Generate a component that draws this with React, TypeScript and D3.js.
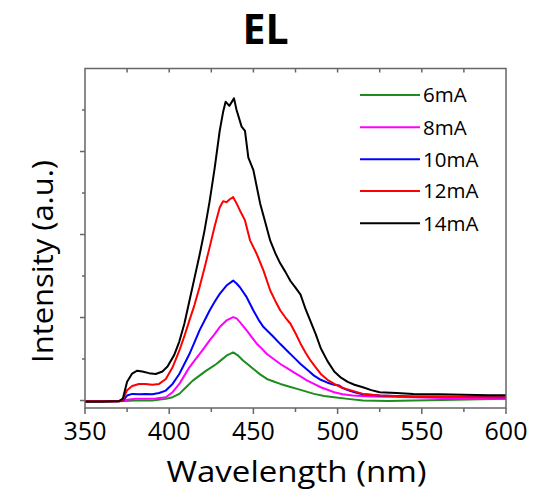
import * as d3 from "d3";
import { useEffect, useRef } from "react";

const TITLE = "EL";
const X_TITLE = "Wavelength (nm)";
const Y_TITLE = "Intensity (a.u.)";

const X_TICKS = [350, 400, 450, 500, 550, 600];

// 6mA
const wl6 = [350, 370, 380, 390, 398, 402, 406, 410, 414, 418, 422, 425, 428, 431, 434, 438, 441, 444, 447, 450, 454, 458, 462, 466, 471, 476, 481, 486, 492, 498, 506, 515, 530, 545, 570, 600];
const int6 = [-0.02, -0.02, 0.0, 0.0, 0.04, 0.08, 0.16, 0.32, 0.48, 0.6, 0.72, 0.8, 0.88, 0.98, 1.08, 1.16, 1.08, 0.96, 0.86, 0.76, 0.63, 0.52, 0.46, 0.4, 0.34, 0.28, 0.22, 0.16, 0.11, 0.08, 0.04, 0.0, -0.01, 0.0, 0.02, 0.04];

// 8mA
const wl8 = [350, 370, 375, 380, 386, 392, 398, 402, 406, 409, 412, 415, 418, 421, 424, 427, 430, 434, 438, 440, 442, 446, 449, 452, 455, 458, 462, 466, 470, 474, 478, 482, 486, 490, 494, 498, 503, 509, 520, 545, 575, 600];
const int8 = [-0.02, -0.02, 0.02, 0.04, 0.04, 0.05, 0.08, 0.2, 0.4, 0.6, 0.8, 0.96, 1.12, 1.28, 1.45, 1.6, 1.77, 1.93, 2.01, 1.98, 1.89, 1.69, 1.53, 1.37, 1.25, 1.12, 1.0, 0.88, 0.78, 0.68, 0.58, 0.48, 0.4, 0.32, 0.26, 0.2, 0.15, 0.12, 0.1, 0.08, 0.05, 0.04];

// 10mA
const wl10 = [350, 370, 372.5, 375, 378, 382, 386, 390, 394, 398, 402, 406, 409, 412, 415, 418, 421, 424, 427, 430, 434, 438, 440, 442, 446, 450, 453, 456, 459, 462, 466, 470, 474, 478, 482, 486, 490, 494, 498, 501, 503, 506, 510, 515, 525, 545, 570, 600];
const int10 = [-0.01, -0.01, 0.0, 0.12, 0.16, 0.15, 0.16, 0.15, 0.18, 0.24, 0.4, 0.64, 0.88, 1.12, 1.4, 1.69, 1.93, 2.17, 2.38, 2.57, 2.77, 2.89, 2.82, 2.73, 2.49, 2.17, 1.95, 1.77, 1.65, 1.53, 1.36, 1.2, 1.04, 0.88, 0.74, 0.6, 0.5, 0.43, 0.38, 0.36, 0.3, 0.25, 0.2, 0.15, 0.12, 0.1, 0.09, 0.08];

// 12mA
const wl12 = [350, 370, 372.5, 375, 378, 382, 386, 390, 394, 398, 402, 406, 409, 412, 415, 418, 421, 424, 427, 430, 432, 434, 436, 438, 440, 442, 445, 448, 452, 456, 460, 463, 466, 469, 472, 475, 478, 481, 484, 487, 490, 494, 498, 502, 505, 510, 515, 525, 540, 560, 580, 600];
const int12 = [-0.02, -0.02, 0.02, 0.25, 0.35, 0.4, 0.4, 0.38, 0.4, 0.52, 0.8, 1.2, 1.55, 1.93, 2.3, 2.73, 3.2, 3.69, 4.2, 4.65, 4.8, 4.78, 4.85, 4.9, 4.75, 4.58, 4.34, 3.86, 3.53, 3.13, 2.65, 2.4, 2.17, 2.0, 1.85, 1.62, 1.37, 1.15, 0.96, 0.8, 0.64, 0.5, 0.4, 0.32, 0.28, 0.22, 0.16, 0.12, 0.1, 0.09, 0.08, 0.08];

// 14mA
const wl14 = [350, 360, 370, 372.5, 375, 378, 381, 384, 388, 392, 396, 399, 403, 406, 409, 412, 415, 418, 421, 424, 427, 430, 432, 433.5, 435.7, 438.5, 440, 443, 445, 447, 450, 454, 457, 460, 463, 466, 469, 472, 475, 478, 481, 484, 487, 490, 494, 498, 502, 506, 510, 515, 520, 525, 535, 545, 560, 575, 590, 600];
const int14 = [-0.03, -0.03, -0.02, 0.05, 0.45, 0.65, 0.72, 0.7, 0.66, 0.64, 0.7, 0.82, 1.1, 1.42, 1.85, 2.4, 2.95, 3.5, 4.1, 4.8, 5.6, 6.5, 6.95, 7.2, 7.1, 7.28, 7.0, 6.6, 6.5, 5.85, 5.55, 4.75, 4.3, 3.85, 3.55, 3.3, 3.1, 2.88, 2.72, 2.55, 2.2, 1.9, 1.6, 1.26, 0.95, 0.7, 0.55, 0.45, 0.38, 0.32, 0.25, 0.2, 0.18, 0.16, 0.15, 0.14, 0.13, 0.13];

const SERIES = [
  { name: "6mA", wl: wl6, val: int6, color: "#1e8c1e" },
  { name: "8mA", wl: wl8, val: int8, color: "#ff00ff" },
  { name: "10mA", wl: wl10, val: int10, color: "#0000ff" },
  { name: "12mA", wl: wl12, val: int12, color: "#ff0000" },
  { name: "14mA", wl: wl14, val: int14, color: "#000000" },
];

const FONT = "'Open Sans', Lato, sans-serif";

const App = () => {
  const svgRef = useRef<SVGSVGElement | null>(null);

  useEffect(() => {
    const width = 550;
    const height = 491;
    const left = 85;
    const right = 506;
    const top = 68.5;
    const bottom = 408;

    const svg = d3.select(svgRef.current);
    svg.selectAll("*").remove();
    svg.attr("width", width).attr("height", height);

    const x = d3.scaleLinear().domain([350, 600]).range([left, right]);
    const y = d3.scaleLinear().domain([-0.18, 8]).range([bottom, top]);

    const frameColor = "#666";

    // curves (drawn first so frame sits on top)
    const line = d3
      .line<[number, number]>()
      .x((d) => x(d[0]))
      .y((d) => y(d[1]));

    SERIES.forEach((s) => {
      const pts = s.wl.map((w, i) => [w, s.val[i]] as [number, number]);
      svg
        .append("path")
        .attr("d", line(pts))
        .attr("fill", "none")
        .attr("stroke", s.color)
        .attr("stroke-width", 2)
        .attr("stroke-linejoin", "round");
    });

    // frame
    svg
      .append("rect")
      .attr("x", left)
      .attr("y", top)
      .attr("width", right - left)
      .attr("height", bottom - top)
      .attr("fill", "none")
      .attr("stroke", frameColor)
      .attr("stroke-width", 1.5);

    // bottom axis: major + minor ticks outward
    const xMinor = d3.range(375, 600, 50);
    const g = svg.append("g");
    X_TICKS.forEach((t) => {
      g.append("line")
        .attr("x1", x(t)).attr("x2", x(t))
        .attr("y1", bottom).attr("y2", bottom + 6)
        .attr("stroke", frameColor).attr("stroke-width", 1.5);
      g.append("text")
        .attr("x", x(t))
        .attr("y", 440)
        .attr("text-anchor", "middle")
        .attr("font-family", FONT)
        .attr("font-size", 25)
        .attr("fill", "#000")
        .text(t);
    });
    xMinor.forEach((t) => {
      g.append("line")
        .attr("x1", x(t)).attr("x2", x(t))
        .attr("y1", bottom).attr("y2", bottom + 4)
        .attr("stroke", frameColor).attr("stroke-width", 1.5);
    });

    // top ticks pointing inward
    d3.range(375, 600, 25).forEach((t) => {
      g.append("line")
        .attr("x1", x(t)).attr("x2", x(t))
        .attr("y1", top).attr("y2", top + 4)
        .attr("stroke", frameColor).attr("stroke-width", 1.5);
    });

    // left ticks outward, no labels
    d3.range(0, 8, 1).forEach((t) => {
      const major = t % 2 === 0;
      g.append("line")
        .attr("x1", left).attr("x2", left - (major ? 5 : 3))
        .attr("y1", y(t)).attr("y2", y(t))
        .attr("stroke", frameColor).attr("stroke-width", 1.5);
    });

    // title
    svg
      .append("text")
      .attr("x", 265.5)
      .attr("y", 44)
      .attr("text-anchor", "middle")
      .attr("font-family", FONT)
      .attr("font-weight", "bold")
      .attr("font-size", 41)
      .attr("fill", "#000")
      .text(TITLE);

    // x title
    svg
      .append("text")
      .attr("x", 296.5)
      .attr("y", 481.5)
      .attr("text-anchor", "middle")
      .attr("font-family", FONT)
      .attr("font-size", 29)
      .attr("textLength", 260)
      .attr("lengthAdjust", "spacingAndGlyphs")
      .attr("fill", "#000")
      .text(X_TITLE);

    // y title
    svg
      .append("text")
      .attr("transform", `translate(53,261.5) rotate(-90)`)
      .attr("text-anchor", "middle")
      .attr("font-family", FONT)
      .attr("font-size", 29)
      .attr("textLength", 203)
      .attr("lengthAdjust", "spacingAndGlyphs")
      .attr("fill", "#000")
      .text(Y_TITLE);

    // legend
    const legY = [95, 127.3, 159.3, 191, 223.3];
    SERIES.forEach((s, i) => {
      svg.append("line")
        .attr("x1", 360).attr("x2", 420)
        .attr("y1", legY[i]).attr("y2", legY[i])
        .attr("stroke", s.color).attr("stroke-width", 2);
      svg.append("text")
        .attr("x", 423)
        .attr("y", legY[i])
        .attr("dy", "0.36em")
        .attr("font-family", FONT)
        .attr("font-size", 20.5)
        .attr("fill", "#000")
        .text(s.name);
    });
  }, []);

  return (
    <svg
      ref={svgRef}
      style={{ position: "absolute", left: 0, top: 0, background: "#fff" }}
    />
  );
};

export default App;
